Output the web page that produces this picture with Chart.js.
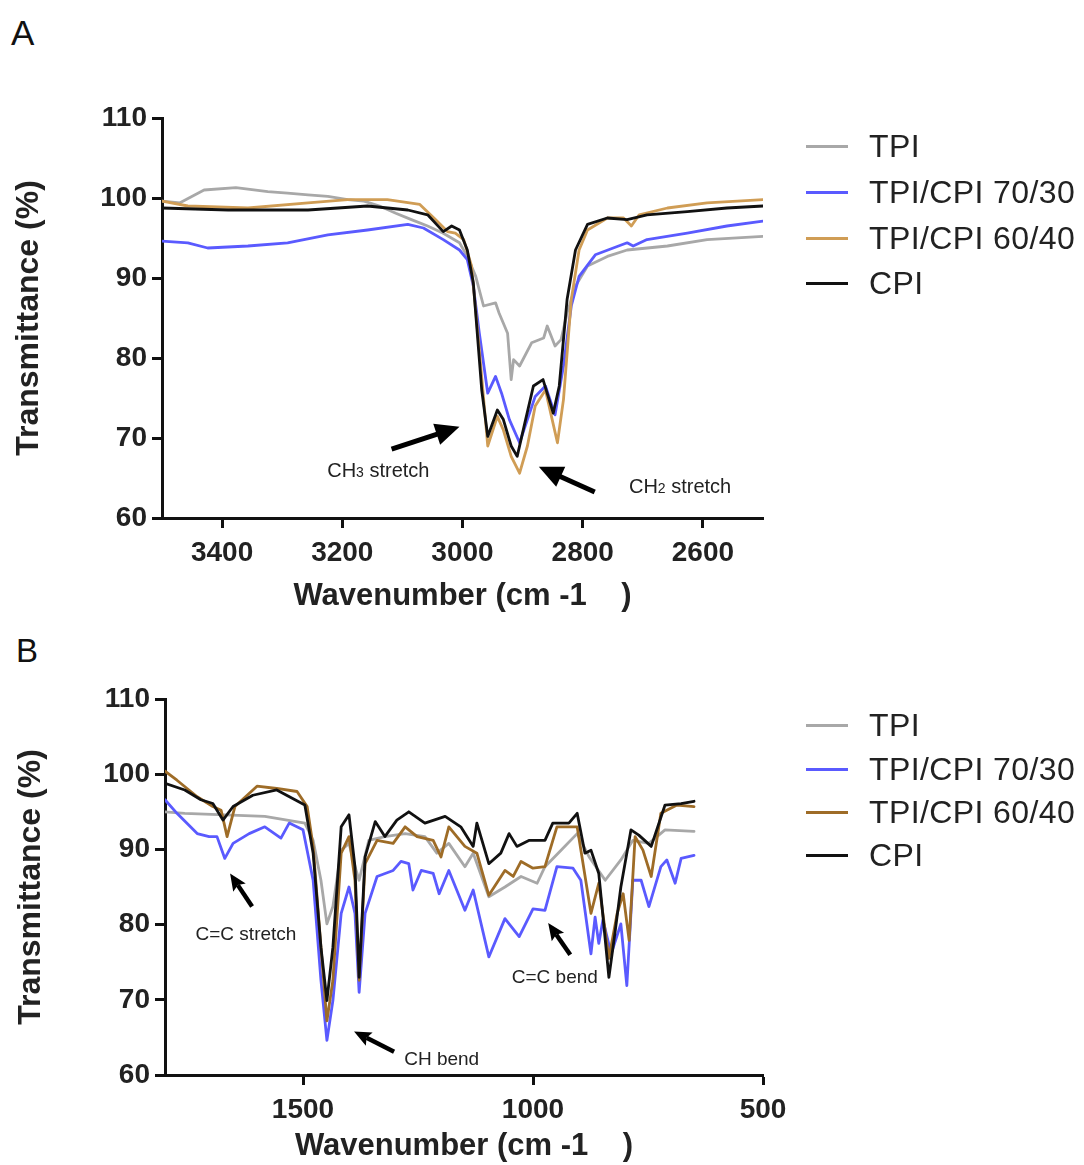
<!DOCTYPE html>
<html><head><meta charset="utf-8">
<script src="https://cdn.jsdelivr.net/npm/chart.js@4.4.0/dist/chart.umd.min.js"></script>
<style>
html,body{margin:0;padding:0;background:#fff;}
body{width:1084px;height:1165px;position:relative;overflow:hidden;font-family:'Liberation Sans',Arial,sans-serif;}
canvas{position:absolute;left:0;}
#cA{top:0;} #cB{top:620px;}
.lbl{position:absolute;color:#111;line-height:1;}
.leg{position:absolute;left:806px;height:40px;display:flex;align-items:center;font-size:32px;letter-spacing:0.4px;color:#222;white-space:nowrap;}
.leg i{display:inline-block;width:42px;height:3px;margin-right:21px;}
</style></head><body>
<div class="lbl" style="left:11px;top:15px;font-size:35px;">A</div>
<div class="lbl" style="left:16px;top:634px;font-size:33px;">B</div>
<canvas id="cA" width="1084" height="620"></canvas>
<canvas id="cB" width="1084" height="545"></canvas>
<div id="legA"></div>
<div id="legB"></div>
<script>
// ---------- DATA ----------
const seriesNames = ['TPI', 'TPI/CPI 70/30', 'TPI/CPI 60/40', 'CPI'];
const yTickValues = [60, 70, 80, 90, 100, 110];
const xTicksA = [3400, 3200, 3000, 2800, 2600];
const xTicksB = [1500, 1000, 500];

// Panel A (3500-2500 cm-1)
const tpiA_x = [3500,3470,3430,3377,3324,3291,3257,3224,3191,3164,3138,3111,3085,3058,3032,3005,2992,2978,2965,2945,2939,2925,2919,2915,2905,2885,2865,2859,2846,2836,2826,2812,2792,2759,2726,2659,2593,2500];
const tpiA_y = [99.6,99.4,101,101.3,100.8,100.6,100.4,100.2,99.8,99.6,99,98.1,97.3,96.5,95.6,94.4,92.7,90.2,86.5,86.9,85.6,83.1,77.3,79.8,79,81.9,82.5,84,81.5,82.3,85.6,89,91.5,92.7,93.5,94,94.8,95.2];

const b7030A_x = [3500,3457,3424,3357,3291,3224,3158,3091,3065,3032,3005,2992,2982,2972,2958,2945,2935,2922,2905,2892,2879,2862,2846,2832,2819,2806,2779,2726,2716,2693,2626,2560,2500];
const b7030A_y = [94.6,94.4,93.75,94,94.4,95.4,96,96.7,96.25,94.8,93.5,92.3,89,83.1,75.6,77.7,75.6,72.3,69.4,72.3,75.2,76.5,72.9,79,86.5,90.2,92.9,94.4,94,94.8,95.6,96.5,97.1];

const b6040A_x = [3500,3457,3357,3257,3191,3125,3071,3045,3025,3012,2998,2985,2972,2958,2942,2932,2919,2905,2892,2879,2862,2852,2842,2832,2819,2806,2792,2759,2732,2719,2706,2659,2593,2500];
const b6040A_y = [99.6,99,98.75,99.4,99.8,99.8,99.2,97.3,95.8,95.6,94.8,91.5,81,69,72.7,71,67.7,65.6,69,74,76,72.7,69.4,74.8,87.3,93.5,96,97.5,97.5,96.5,97.9,98.75,99.4,99.8];

const cpiA_x = [3500,3390,3257,3158,3091,3058,3032,3018,3005,2992,2982,2968,2958,2942,2932,2919,2909,2895,2882,2866,2849,2839,2826,2812,2792,2759,2726,2693,2626,2560,2500];
const cpiA_y = [98.75,98.5,98.5,99,98.5,97.9,95.8,96.5,96,93.5,89.4,76,70.2,73.5,72.3,69,67.7,72.3,76.5,77.3,73.1,76.5,87.3,93.5,96.7,97.5,97.3,97.9,98.3,98.75,99];

// Panel B (1800-650 cm-1)
const tpiB_x = [1800,1757,1670,1583,1496,1478,1461,1448,1435,1417,1400,1387,1378,1357,1322,1278,1235,1209,1183,1148,1130,1096,1061,1026,991,974,939,904,878,843,809,783,748,713,650];
const tpiB_y = [95,94.8,94.6,94.4,93.5,91.2,85.9,80.1,82.4,89.9,90.8,87.7,85.9,91.2,91.7,92.1,91.7,89.5,90.8,87.7,89.5,83.7,85,86.4,85.5,87.7,89.9,92.1,89,85.9,88.6,91.2,90.8,92.6,92.4];

const b7030B_x = [1800,1774,1730,1704,1687,1670,1652,1617,1583,1548,1530,1500,1478,1461,1448,1435,1417,1400,1387,1378,1365,1339,1304,1287,1270,1261,1243,1217,1204,1183,1148,1130,1096,1061,1030,1000,974,948,913,896,874,865,857,848,830,809,796,783,765,748,722,709,691,678,650];
const b7030B_y = [96.6,94.8,92.1,91.7,91.7,88.8,90.8,92.1,93,91.5,93.5,92.6,85.9,72.6,64.6,69.9,81.5,85,81.5,71,81.5,86.4,87.2,88.4,88.1,84.6,87.2,86.8,84.1,87.2,81.9,84.6,75.7,80.8,78.4,82.1,81.9,87.7,87.5,85.9,76.1,81,77.5,80.6,76.1,80.1,71.9,85.9,85.9,82.4,87.7,88.6,85.5,88.8,89.2];

const b6040B_x = [1800,1774,1730,1696,1678,1665,1648,1600,1557,1513,1491,1478,1461,1448,1435,1417,1400,1387,1378,1365,1339,1304,1278,1252,1217,1200,1183,1148,1122,1096,1061,1043,1026,1000,974,948,904,874,857,835,817,804,791,778,761,743,722,687,650];
const b6040B_y = [100.4,99.2,97,95.7,95.2,91.7,95.7,98.4,98.1,97.7,95.7,90.4,77,67.2,72.6,89.5,91.7,85.9,72.6,88.1,91.2,90.8,93,91.7,91.2,89,93,90.4,89.5,83.9,87.2,86.4,88.4,87.5,87.7,93,93,81.5,85.5,75.5,81.5,84.1,77.9,91.7,89.9,86.4,94.8,95.9,95.7];

const cpiB_x = [1800,1757,1722,1696,1674,1652,1609,1557,1496,1478,1461,1448,1435,1417,1400,1387,1378,1365,1343,1322,1296,1270,1235,1191,1157,1130,1122,1096,1070,1052,1035,1009,974,957,922,904,887,874,857,835,822,809,787,770,743,713,678,650];
const cpiB_y = [98.8,97.9,96.6,96.1,93.9,95.7,97.2,97.9,95.9,89.5,77,69.9,77,93,94.6,87.7,73,89,93.7,91.7,93.9,95,93.5,94.4,93,90.4,93.5,88.1,89.5,92.1,90.4,91.2,91.2,93.5,93.5,94.8,89.5,89.9,86.8,73,78.8,85,92.6,91.9,90.4,95.9,96.1,96.4];

// ---------- STYLE ----------
const FONT = "'Liberation Sans', Arial, sans-serif";
const colorsA = ['#a8a8a8', '#5a5aff', '#d09d55', '#111111'];
const colorsB = ['#a8a8a8', '#5a5aff', '#9e6c27', '#111111'];

function pts(xs, ys) { return xs.map((x, i) => ({x: x, y: ys[i]})); }

function drawArrow(ctx, x1, y1, x2, y2, shaft, hl, hw, notch) {
  const a = Math.atan2(y2 - y1, x2 - x1);
  const c = Math.cos(a), s = Math.sin(a);
  const bx = x2 - hl * c, by = y2 - hl * s;
  ctx.strokeStyle = '#000'; ctx.lineWidth = shaft; ctx.lineCap = 'butt';
  ctx.beginPath(); ctx.moveTo(x1, y1); ctx.lineTo(bx + 3 * c, by + 3 * s); ctx.stroke();
  ctx.fillStyle = '#000';
  ctx.beginPath();
  ctx.moveTo(x2, y2);
  ctx.lineTo(bx + hw / 2 * s, by - hw / 2 * c);
  ctx.lineTo(bx + notch * c, by + notch * s);
  ctx.lineTo(bx - hw / 2 * s, by + hw / 2 * c);
  ctx.closePath(); ctx.fill();
}

const annotPlugin = {
  id: 'annot',
  afterDatasetsDraw(chart, args, opts) {
    const ctx = chart.ctx, xs = chart.scales.x, ys = chart.scales.y;
    ctx.save();
    (opts.arrows || []).forEach(a => {
      drawArrow(ctx, xs.getPixelForValue(a.from[0]), ys.getPixelForValue(a.from[1]),
        xs.getPixelForValue(a.to[0]), ys.getPixelForValue(a.to[1]), a.shaft, a.hl, a.hw, a.notch);
    });
    (opts.texts || []).forEach(t => {
      let total = 0;
      t.parts.forEach(p => { ctx.font = p.size + 'px ' + FONT; p.w = ctx.measureText(p.s).width; total += p.w; });
      let x = xs.getPixelForValue(t.at[0]);
      if (t.align === 'center') x -= total / 2;
      const y = ys.getPixelForValue(t.at[1]);
      ctx.fillStyle = '#222'; ctx.textBaseline = 'alphabetic'; ctx.textAlign = 'left';
      t.parts.forEach(p => { ctx.font = p.size + 'px ' + FONT; ctx.fillText(p.s, x, y); x += p.w; });
    });
    ctx.restore();
  }
};

function makeChart(id, cfg) {
  const datasets = cfg.series.map((s, i) => ({
    label: seriesNames[i], data: pts(s[0], s[1]), borderColor: cfg.colors[i],
    backgroundColor: cfg.colors[i], order: 4 - i
  }));
  return new Chart(document.getElementById(id), {
    type: 'line',
    data: {datasets: datasets},
    plugins: [annotPlugin],
    options: {
      responsive: false, animation: false, devicePixelRatio: 1,
      layout: {padding: {left: 0, top: cfg.top, right: 1084 - cfg.right, bottom: 0}},
      plugins: {legend: {display: false}, tooltip: {enabled: false}, annot: cfg.annot},
      elements: {point: {radius: 0}, line: {borderWidth: 2.8, tension: 0, borderJoinStyle: 'round', borderCapStyle: 'round'}},
      scales: {
        x: {
          type: 'linear', reverse: true, min: cfg.xmin, max: cfg.xmax,
          afterBuildTicks: s => { s.ticks = cfg.xticks.map(v => ({value: v})); },
          afterFit: s => { s.height = cfg.xh; },
          grid: {display: true, drawOnChartArea: false, drawTicks: true, tickLength: 10, tickWidth: 3, tickColor: '#111'},
          border: {display: true, color: '#111', width: 3},
          ticks: {color: '#222', font: {family: FONT, size: 28, weight: 'bold'}, padding: 8, maxRotation: 0, autoSkip: false, callback: v => String(v)},
          title: {display: true, text: 'Wavenumber (cm -1    )', color: '#222', font: {family: FONT, size: 31, weight: 'bold'}, padding: {top: 0, bottom: cfg.xtpad}}
        },
        y: {
          type: 'linear', min: 60, max: 110,
          afterBuildTicks: s => { s.ticks = yTickValues.map(v => ({value: v})); },
          afterFit: s => { s.width = cfg.left; },
          grid: {display: true, drawOnChartArea: false, drawTicks: true, tickLength: 10, tickWidth: 3, tickColor: '#111'},
          border: {display: true, color: '#111', width: 3},
          ticks: {color: '#222', font: {family: FONT, size: 28, weight: 'bold'}, padding: 5, callback: v => String(v)},
          title: {display: true, text: 'Transmittance (%)', color: '#222', font: {family: FONT, size: 32, weight: 'bold'}, padding: {top: cfg.ytpad, bottom: 0}}
        }
      }
    }
  });
}

function makeLegend(id, colors, centers) {
  const host = document.getElementById(id);
  seriesNames.forEach((n, i) => {
    const d = document.createElement('div');
    d.className = 'leg';
    d.style.top = (centers[i] - 20) + 'px';
    d.innerHTML = '<i style="background:' + colors[i] + '"></i><span></span>';
    d.querySelector('span').textContent = n;
    host.appendChild(d);
  });
}

makeChart('cA', {
  series: [[tpiA_x, tpiA_y], [b7030A_x, b7030A_y], [b6040A_x, b6040A_y], [cpiA_x, cpiA_y]],
  colors: colorsA, xmin: 2500, xmax: 3500, xticks: xTicksA,
  top: 118, left: 162, right: 763, xh: 102, xtpad: 5, ytpad: 10,
  annot: {
    arrows: [
      {from: [3118, 68.6], to: [3005, 71.4], shaft: 5, hl: 24, hw: 22, notch: 0},
      {from: [2780, 63.25], to: [2873, 66.4], shaft: 5, hl: 24, hw: 22, notch: 0}
    ],
    texts: [
      {at: [3140, 65.1], align: 'center', parts: [{s: 'CH', size: 20}, {s: '3', size: 14}, {s: ' stretch', size: 20}]},
      {at: [2723, 63.1], align: 'left', parts: [{s: 'CH', size: 20}, {s: '2', size: 14}, {s: ' stretch', size: 20}]}
    ]
  }
});

makeChart('cB', {
  series: [[tpiB_x, tpiB_y], [b7030B_x, b7030B_y], [b6040B_x, b6040B_y], [cpiB_x, cpiB_y]],
  colors: colorsB, xmin: 500, xmax: 1800, xticks: xTicksB,
  top: 79, left: 165, right: 763, xh: 90, xtpad: 0, ytpad: 12,
  annot: {
    arrows: [
      {from: [1610.7, 82.4], to: [1658.5, 86.8], shaft: 4.5, hl: 17, hw: 15, notch: 3},
      {from: [919, 76], to: [967, 80.2], shaft: 4.5, hl: 17, hw: 15, notch: 3},
      {from: [1302, 63.1], to: [1389, 65.8], shaft: 4.5, hl: 17, hw: 15, notch: 3}
    ],
    texts: [
      {at: [1624, 77.95], align: 'center', parts: [{s: 'C=C stretch', size: 19}]},
      {at: [952.6, 72.2], align: 'center', parts: [{s: 'C=C bend', size: 19}]},
      {at: [1280, 61.3], align: 'left', parts: [{s: 'CH bend', size: 19}]}
    ]
  }
});

makeLegend('legA', colorsA, [146.7, 192.7, 238.3, 283.3]);
makeLegend('legB', colorsB, [725, 769.3, 812.7, 855]);
</script>
</body></html>
